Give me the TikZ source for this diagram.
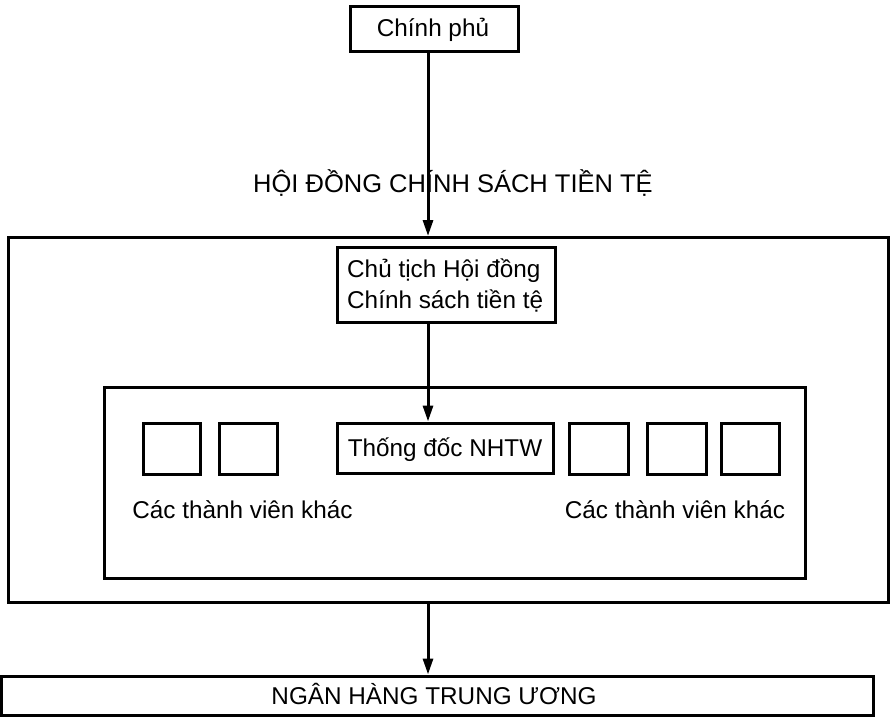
\documentclass[tikz,border=0pt]{standalone}
\usepackage{fontspec}
\setmainfont{Liberation Sans}
\usetikzlibrary{arrows.meta}
\begin{document}
\begin{tikzpicture}[x=1pt,y=-1pt,
  box/.style={draw,line width=3pt,inner sep=0pt,rectangle},
  lbl/.style={inner sep=0pt,font=\fontsize{24.3}{31}\selectfont},
  arr/.style={line width=3pt,-{Triangle[length=16pt,width=10pt]}},
]
\useasboundingbox (0,0) rectangle (891,717);
% boxes
\node[box,minimum width=168pt,minimum height=45pt] (cp) at (434,29.5) {};
\node[lbl,anchor=base] at (433,37) {Chính phủ};
\node[lbl,anchor=base,font=\fontsize{25.5}{31}\selectfont] (hd) at (453,192) {HỘI ĐỒNG CHÍNH SÁCH TIỀN TỆ};
\node[box,minimum width=880pt,minimum height=365pt] (outer) at (448,420) {};
\node[box,minimum width=218pt,minimum height=75pt] (ct) at (446,284.5) {};
\node[lbl,anchor=base west,align=left] at (347,308) {Chủ tịch Hội đồng\\Chính sách tiền tệ};
\node[box,minimum width=701pt,minimum height=191pt] (inner) at (454.5,482.5) {};
\node[box,minimum width=216pt,minimum height=50pt] (td) at (445,448) {};
\node[lbl,anchor=base] at (445,456) {Thống đốc NHTW};
\node[box,minimum width=57pt,minimum height=51pt] (s1) at (171.5,448.5) {};
\node[box,minimum width=58pt,minimum height=51pt] (s2) at (248,448.5) {};
\node[box,minimum width=59pt,minimum height=51pt] (s3) at (598.5,448.5) {};
\node[box,minimum width=59pt,minimum height=51pt] (s4) at (676.5,448.5) {};
\node[box,minimum width=58pt,minimum height=51pt] (s5) at (750,448.5) {};
\node[lbl,anchor=base] (l1) at (242.5,518) {Các thành viên khác};
\node[lbl,anchor=base] (l2) at (675,518) {Các thành viên khác};
\node[box,minimum width=872pt,minimum height=39pt] (nh) at (437,695.5) {};
\node[lbl,anchor=base] at (434,704) {NGÂN HÀNG TRUNG ƯƠNG};
% connectors
\coordinate (ax) at (428,0);
\draw[arr] (cp.south -| ax) -- (outer.north -| ax);
\draw[arr] (ct.south -| ax) -- (td.north -| ax);
\draw[arr] (outer.south -| ax) -- (nh.north -| ax);
\end{tikzpicture}
\end{document}
